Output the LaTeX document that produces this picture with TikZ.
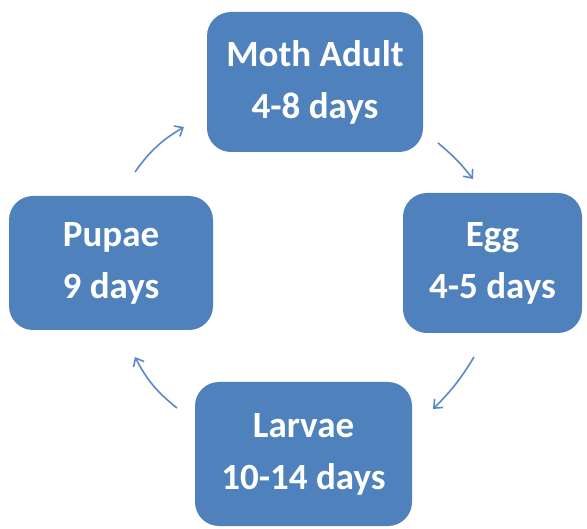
\documentclass[tikz,border=0pt]{standalone}
\usepackage{fontspec}
\setmainfont{Carlito}
\usetikzlibrary{arrows.meta}
\definecolor{boxblue}{HTML}{4F81BD}
\definecolor{arrblue}{HTML}{5A88C6}
\tikzset{
  stagebox/.style={fill=boxblue, draw=none, rounded corners=24pt, inner sep=0pt,
    text=white, align=center, font=\fontsize{37}{52}\selectfont\bfseries},
  cyclearrow/.style={draw=arrblue, line width=1.6pt,
    -{Straight Barb[length=7pt,width=12pt,line width=1.6pt]}}
}
\begin{document}
\begin{tikzpicture}[x=1pt,y=-1pt]
\useasboundingbox (0,0) rectangle (587,529);
\node[stagebox, minimum width=216pt, minimum height=140pt] (moth) at (315,82) {Moth Adult\\4-8 days};
\node[stagebox, minimum width=179pt, minimum height=140pt] (egg) at (492.5,263) {Egg\\4-5 days};
\node[stagebox, minimum width=217pt, minimum height=144pt] (larvae) at (303.5,454) {Larvae\\10-14 days};
\node[stagebox, minimum width=204pt, minimum height=134pt] (pupae) at (111,263) {Pupae\\9 days};
\coordinate (a1s) at (135,172);
\coordinate (a1e) at (184,127);
\coordinate (a2s) at (438,143);
\coordinate (a2e) at (473,179);
\coordinate (a3s) at (474,357);
\coordinate (a3e) at (433,409);
\coordinate (a4s) at (177,408);
\coordinate (a4e) at (135,357);
\draw[cyclearrow] (a1s) to[bend left=12] (a1e);
\draw[cyclearrow] (a2s) to[bend left=6] (a2e);
\draw[cyclearrow] (a3s) to[bend left=7] (a3e);
\draw[cyclearrow] (a4s) to[bend left=12] (a4e);
\end{tikzpicture}
\end{document}
